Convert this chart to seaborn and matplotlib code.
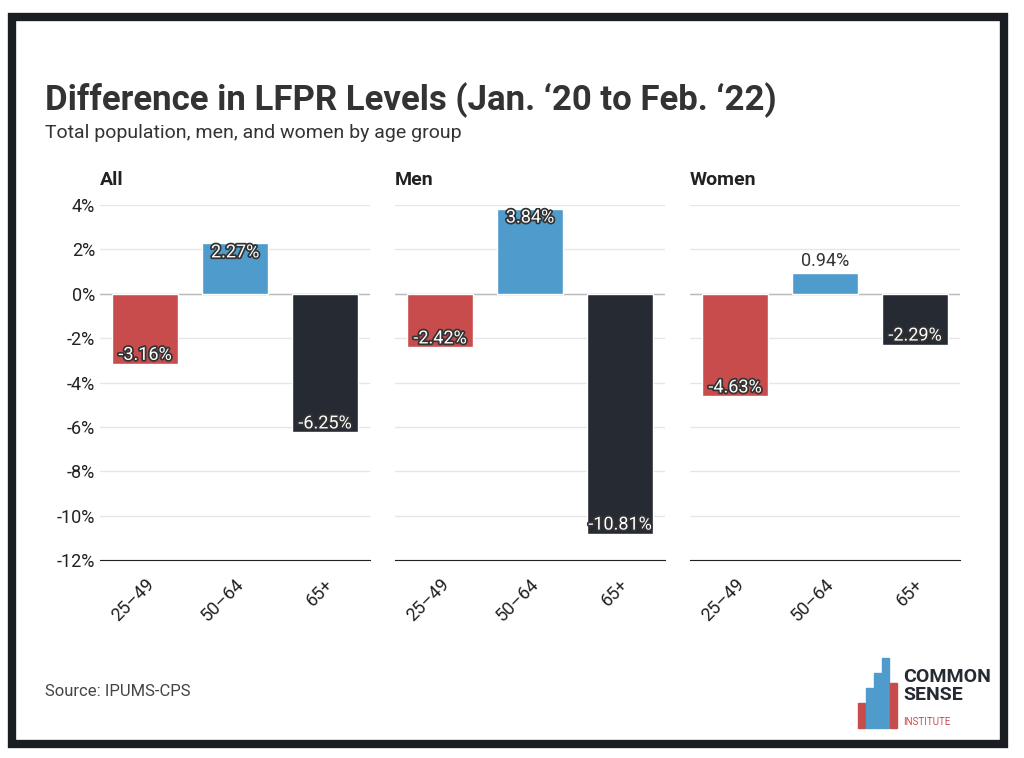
import matplotlib
matplotlib.use("Agg")
import matplotlib.pyplot as plt
import matplotlib.patheffects as pe
from matplotlib.patches import Rectangle
import seaborn as sns
import pandas as pd

groups = ["All", "Men", "Women"]
ages = ["25\u201349", "50\u201364", "65+"]
values = {
    "All": [-3.16, 2.27, -6.25],
    "Men": [-2.42, 3.84, -10.81],
    "Women": [-4.63, 0.94, -2.29],
}
colors = ["#c94c4c", "#4f9bcb", "#262b33"]

sns.set_style("white")
plt.rcParams["font.family"] = ["Roboto", "DejaVu Sans"]

fig = plt.figure(figsize=(10.24, 7.58), dpi=100)
fig.patches.append(Rectangle((0.012, 0.018), 0.968, 0.96, transform=fig.transFigure,
                             fill=False, lw=6, ec="#1a1d21"))

lefts = [100, 395, 690]
for i, g in enumerate(groups):
    ax = fig.add_axes([lefts[i] / 1024, 1 - 560 / 758, 270 / 1024, 355 / 758])
    df = pd.DataFrame({"age": ages, "val": values[g]})
    sns.barplot(data=df, x="age", y="val", hue="age", palette=colors, legend=False,
                width=0.73, saturation=1, ax=ax, zorder=3)
    ax.set_ylim(-12, 4)
    ax.set_yticks(range(-12, 5, 2))
    ax.grid(axis="y", color="#e6e6e6", lw=1, zorder=0)
    ax.axhline(0, color="#bbbbbb", lw=1, zorder=2)
    for s in ["top", "right", "left"]:
        ax.spines[s].set_visible(False)
    ax.spines["bottom"].set_color("#222222")
    ax.set_xlabel("")
    ax.set_ylabel("")
    if i == 0:
        ax.set_yticklabels([f"{t}%" for t in range(-12, 5, 2)], fontsize=13, color="#222222")
    else:
        ax.set_yticklabels([])
    ax.tick_params(axis="y", length=0)
    ax.tick_params(axis="x", length=5, color="#222222", pad=6)
    ax.set_xticks(range(3))
    ax.set_xticklabels(ages, rotation=45, ha="right", rotation_mode="anchor",
                       fontsize=13, color="#222222")
    ax.text(0, 1.045, g, transform=ax.transAxes, fontsize=14, fontweight="bold",
            color="#222222", va="bottom")
    for j, v in enumerate(values[g]):
        if g == "Women" and j == 1:
            ax.text(j, v + 0.15, f"{v:.2f}%", ha="center", va="bottom", fontsize=13,
                    color="#333333", zorder=5)
        else:
            ax.text(j, v, f"{v:.2f}%", ha="center", va="top" if v > 0 else "bottom",
                    fontsize=13, color="white", zorder=5,
                    path_effects=[pe.withStroke(linewidth=2.5, foreground="#333333")])

fig.text(45 / 1024, 1 - 100 / 758, "Difference in LFPR Levels (Jan. \u201820 to Feb. \u201822)",
         fontsize=25, fontweight="bold", color="#333333", va="center", stretch="condensed")
fig.text(45 / 1024, 1 - 133 / 758, "Total population, men, and women by age group",
         fontsize=14, color="#333333", va="center")
fig.text(45 / 1024, 1 - 692 / 758, "Source: IPUMS-CPS", fontsize=12, color="#444444", va="center")

# simple logo
for x, h, c in [(858, 25, "#c94c4c"), (866, 40, "#4f9bcb"), (874, 55, "#4f9bcb"),
                (882, 70, "#4f9bcb"), (890, 45, "#c94c4c")]:
    fig.patches.append(Rectangle((x / 1024, 1 - 728 / 758), 7 / 1024, h / 758,
                                 transform=fig.transFigure, color=c))
fig.text(903 / 1024, 1 - 686 / 758, "COMMON\nSENSE", fontsize=14, fontweight="bold",
         color="#262b33", va="center", linespacing=1.0, stretch="condensed")
fig.text(903 / 1024, 1 - 722 / 758, "INSTITUTE", fontsize=7, color="#c94c4c", va="center")

fig.savefig("out.png", dpi=100)
